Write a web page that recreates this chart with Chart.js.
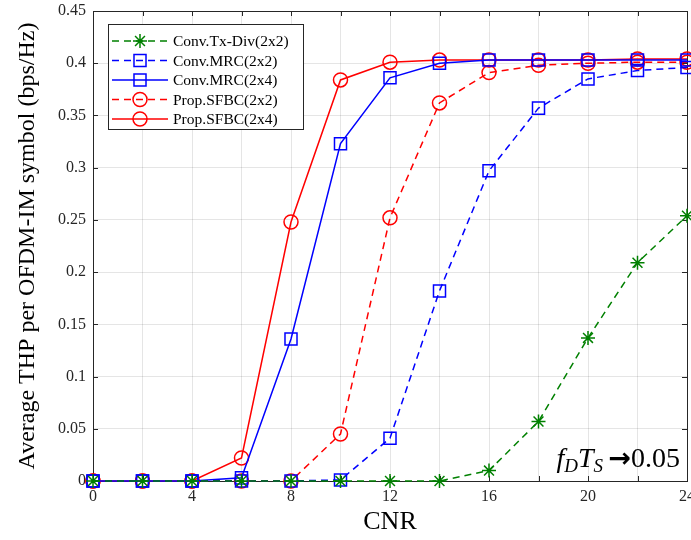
<!DOCTYPE html>
<html>
<head>
<meta charset="utf-8">
<script src="https://cdn.jsdelivr.net/npm/chart.js@4"></script>
<style>
  html, body { margin: 0; padding: 0; background: #fff; }
  #wrap { width: 691px; height: 540px; }
</style>
</head>
<body>
<div id="wrap"><canvas id="thpChart" width="691" height="540"></canvas></div>
<script>
// data
const cnr = [0, 2, 4, 6, 8, 10, 12, 14, 16, 18, 20, 22, 24];
const txDiv2x2 = [0, 0, 0, 0, 0, 0, 0, 0, 0.010, 0.057, 0.137, 0.209, 0.254];
const mrc2x2 = [0, 0, 0, 0, 0, 0.001, 0.041, 0.182, 0.297, 0.357, 0.385, 0.393, 0.396];
const mrc2x4 = [0, 0, 0, 0.003, 0.136, 0.323, 0.386, 0.400, 0.403, 0.403, 0.403, 0.403, 0.403];
const sfbc2x2 = [0, 0, 0, 0, 0, 0.045, 0.252, 0.362, 0.391, 0.398, 0.400, 0.401, 0.401];
const sfbc2x4 = [0, 0, 0, 0.022, 0.248, 0.384, 0.401, 0.403, 0.403, 0.403, 0.403, 0.404, 0.404];
const seriesNames = ["Conv.Tx-Div(2x2)", "Conv.MRC(2x2)", "Conv.MRC(2x4)", "Prop.SFBC(2x2)", "Prop.SFBC(2x4)"];
const yTicks = [0, 0.05, 0.1, 0.15, 0.2, 0.25, 0.3, 0.35, 0.4, 0.45];

const SERIF = "'Liberation Serif', 'Times New Roman', serif";
const GREEN = "#008000", BLUE = "#0000ff", RED = "#ff0000";
const DASH = [7, 5];

const pts = vals => cnr.map((x, i) => ({ x: x, y: vals[i] }));

function series(label, vals, color, dashed, style, radius) {
    return {
        label: label,
        data: pts(vals),
        borderColor: color,
        backgroundColor: "transparent",
        borderWidth: 1.5,
        borderDash: dashed ? DASH : [],
        pointStyle: style,
        pointRadius: radius,
        pointBorderColor: color,
        pointBackgroundColor: "transparent",
        pointBorderWidth: 1.5,
        tension: 0,
        clip: false
    };
}

// marker drawn in the legend, same shapes as chart.js uses
function drawMarker(ctx, style, r, x, y) {
    ctx.beginPath();
    if (style === "rect") {
        const s = r * Math.SQRT1_2;
        ctx.rect(x - s, y - s, 2 * s, 2 * s);
    } else if (style === "circle") {
        ctx.arc(x, y, r, 0, Math.PI * 2);
    } else if (style === "star") {
        const d = r * Math.SQRT1_2;
        ctx.moveTo(x - r, y); ctx.lineTo(x + r, y);
        ctx.moveTo(x, y - r); ctx.lineTo(x, y + r);
        ctx.moveTo(x - d, y - d); ctx.lineTo(x + d, y + d);
        ctx.moveTo(x - d, y + d); ctx.lineTo(x + d, y - d);
    }
    ctx.stroke();
}

const frame = {
    id: "frame",
    beforeDatasetsDraw(chart) {
        const { ctx, chartArea: a, scales: { x, y } } = chart;
        ctx.save();
        ctx.strokeStyle = "#262626";
        ctx.lineWidth = 1;
        ctx.beginPath();
        for (let v = 0; v <= 24; v += 2) {
            const px = Math.round(x.getPixelForValue(v)) + 0.5;
            ctx.moveTo(px, a.bottom); ctx.lineTo(px, a.bottom - 5);
            ctx.moveTo(px, a.top); ctx.lineTo(px, a.top + 5);
        }
        yTicks.forEach(v => {
            const py = Math.round(y.getPixelForValue(v)) + 0.5;
            ctx.moveTo(a.left, py); ctx.lineTo(a.left + 5, py);
            ctx.moveTo(a.right, py); ctx.lineTo(a.right - 5, py);
        });
        ctx.stroke();
        ctx.strokeRect(Math.round(a.left) + 0.5, Math.round(a.top) + 0.5,
            Math.round(a.right - a.left), Math.round(a.bottom - a.top));

        // fD TS -> 0.05 note
        const parts = [
            { t: "f", f: "italic 28px " + SERIF, dy: 0 },
            { t: "D", f: "italic 19px " + SERIF, dy: 5 },
            { t: "T", f: "italic 28px " + SERIF, dy: 0 },
            { t: "S", f: "italic 19px " + SERIF, dy: 5 },
            { t: "\u2009\u2192", f: "bold 27px 'DejaVu Sans', " + SERIF, dy: 0 },
            { t: "0.05", f: "28px " + SERIF, dy: 0 }
        ];
        let total = 0;
        parts.forEach(p => { ctx.font = p.f; p.w = ctx.measureText(p.t).width; total += p.w; });
        let tx = 680 - total;
        ctx.fillStyle = "#000";
        ctx.textBaseline = "alphabetic";
        parts.forEach(p => { ctx.font = p.f; ctx.fillText(p.t, tx, 467 + p.dy); tx += p.w; });
        ctx.restore();
    },
    afterDraw(chart) {
        const { ctx } = chart;
        ctx.save();
        // legend box
        ctx.fillStyle = "#fff";
        ctx.fillRect(108, 24, 196, 106);
        ctx.strokeStyle = "#262626";
        ctx.lineWidth = 1;
        ctx.strokeRect(108.5, 24.5, 195, 105);
        chart.data.datasets.forEach((ds, i) => {
            const ry = 41 + i * 19.5;
            ctx.strokeStyle = ds.borderColor;
            ctx.lineWidth = 1.5;
            ctx.setLineDash(ds.borderDash);
            ctx.beginPath();
            ctx.moveTo(112, ry); ctx.lineTo(168, ry);
            ctx.stroke();
            ctx.setLineDash([]);
            drawMarker(ctx, ds.pointStyle, ds.pointRadius, 140, ry);
            ctx.fillStyle = "#000";
            ctx.font = "15.5px " + SERIF;
            ctx.textBaseline = "middle";
            ctx.fillText(ds.label, 173, ry + 1);
        });
        ctx.restore();
    }
};

new Chart(document.getElementById("thpChart"), {
    type: "line",
    data: {
        datasets: [
            series(seriesNames[0], txDiv2x2, GREEN, true, "star", 7),
            series(seriesNames[1], mrc2x2, BLUE, true, "rect", 8.5),
            series(seriesNames[2], mrc2x4, BLUE, false, "rect", 8.5),
            series(seriesNames[3], sfbc2x2, RED, true, "circle", 7),
            series(seriesNames[4], sfbc2x4, RED, false, "circle", 7)
        ]
    },
    options: {
        responsive: false,
        animation: false,
        layout: { autoPadding: false, padding: { top: 11, right: 4, left: 0, bottom: 0 } },
        plugins: {
            legend: { display: false },
            tooltip: { enabled: false }
        },
        scales: {
            x: {
                type: "linear",
                min: 0,
                max: 24,
                afterBuildTicks: s => { s.ticks = cnr.map(v => ({ value: v })); },
                afterFit: s => { s.height = 59; s.paddingLeft = 0; s.paddingRight = 0; },
                ticks: {
                    autoSkip: false,
                    maxRotation: 0,
                    padding: 6,
                    color: "#262626",
                    font: { family: SERIF, size: 16 },
                    callback: v => (v % 4 === 0 ? String(v) : "")
                },
                grid: { color: "rgba(0,0,0,0.1)", drawTicks: false },
                border: { display: false },
                title: {
                    display: true,
                    text: "CNR",
                    color: "#000",
                    font: { family: SERIF, size: 26 },
                    padding: { top: 0, bottom: 2 }
                }
            },
            y: {
                min: 0,
                max: 0.45,
                afterBuildTicks: s => { s.ticks = yTicks.map(v => ({ value: v })); },
                afterFit: s => { s.width = 93; s.paddingTop = 0; s.paddingBottom = 0; },
                ticks: {
                    padding: 7,
                    color: "#262626",
                    font: { family: SERIF, size: 16 },
                    callback: v => String(+v.toFixed(2))
                },
                grid: { color: "rgba(0,0,0,0.1)", drawTicks: false },
                border: { display: false },
                title: {
                    display: true,
                    text: "Average THP per OFDM-IM symbol (bps/Hz)",
                    color: "#000",
                    font: { family: SERIF, size: 24 },
                    padding: { top: 13, bottom: 0 }
                }
            }
        }
    },
    plugins: [frame]
});
</script>
</body>
</html>
